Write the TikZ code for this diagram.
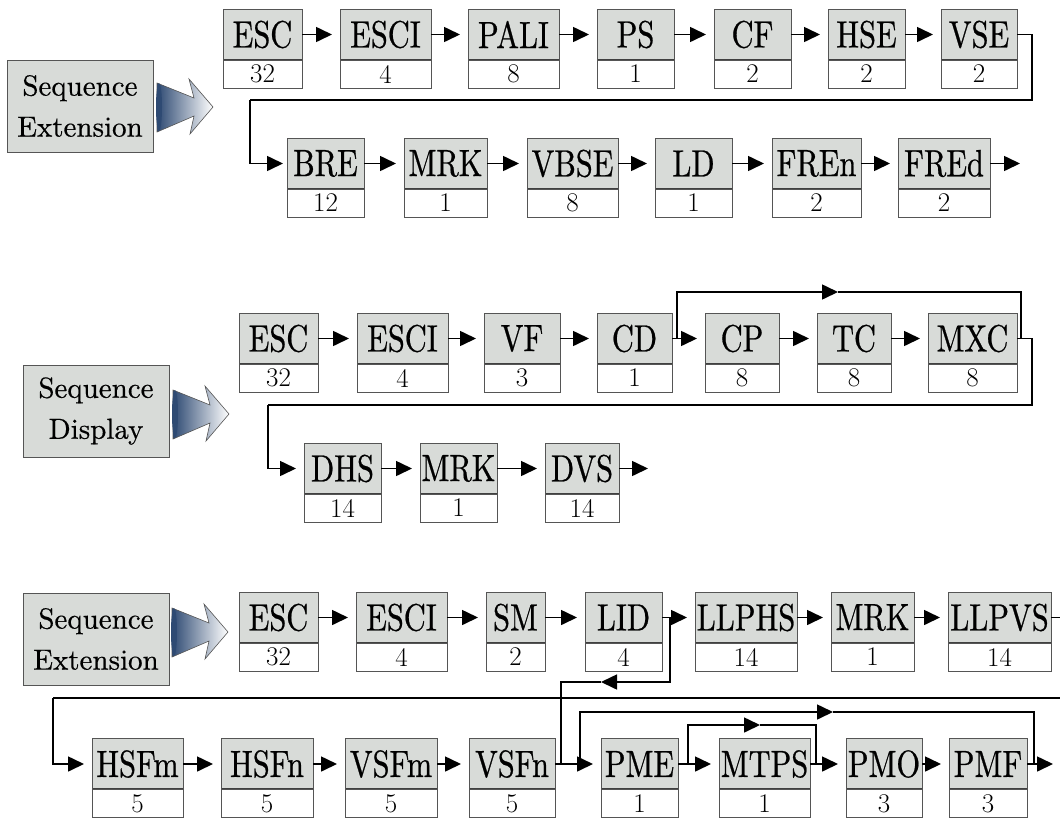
\documentclass[tikz,border=0pt]{standalone}
\usepackage{fontspec}
\newfontfamily\fieldfont[Extension=.otf, FakeStretch=0.8, FakeBold=0.6]{lmroman10-regular}
\newfontfamily\titlefont[Extension=.otf, FakeBold=0.5]{lmroman10-regular}
\usetikzlibrary{positioning,arrows.meta}

\definecolor{boxgray}{HTML}{D8DBD8}
\definecolor{edgegray}{HTML}{555555}
\definecolor{conedark}{HTML}{2E4A73}
\definecolor{conemid}{HTML}{AFBBC9}

\begin{document}
\begin{tikzpicture}[
  x=1pt, y=-1pt,
  field/.style 2 args = {
    rectangle, draw=edgegray, line width=0.9pt, fill=boxgray,
    minimum width=#1pt, minimum height=51pt, inner sep=0pt, outer sep=0pt,
    font=\fieldfont\fontsize{38}{38}\selectfont,
    path picture={\draw[line width=3pt, black!75]
      (path picture bounding box.south west) -- (path picture bounding box.south east);},
    label={[num, minimum width=#1pt]below:#2},
  },
  num/.style = {
    rectangle, draw=edgegray, line width=0.9pt, fill=white,
    minimum height=28pt, inner sep=0pt, outer sep=0pt,
    font=\fontsize{27}{27}\selectfont,
  },
  section/.style = {
    rectangle, draw=edgegray, line width=1pt, fill=boxgray,
    minimum width=146pt, minimum height=92pt, align=center,
    font=\titlefont\fontsize{29}{41}\selectfont,
  },
  link/.style = {-{Triangle[length=16pt,width=15pt]}, line width=1.6pt, shorten >=8pt},
  flow/.style = {-{Triangle[length=16pt,width=15pt]}, line width=1.6pt},
  route/.style = {line width=1.1pt},
  pointer/.pic = {
    \shade[left color=conedark, middle color=conemid, right color=white,
      draw=edgegray, line width=0.6pt]
      (-56,-24) -- (-19,-9) -- (-24,-28) -- (0,0) -- (-23,27) -- (-19,9) -- (-56,25) -- cycle;
    \fill[conedark] (-54,0) ellipse [x radius=3, y radius=24];
  },
]
  \useasboundingbox (0,0) rectangle (1060,817);

  % Sequence Extension
  \node[section] (ext1) at (80,106) {Sequence\\Extension};
  \pic at (213,107) {pointer};

  \node[field={79}{32}] (esc1) at (262.5,34.5) {ESC};
  \node[field={91}{4}] (esci1) at (385.5,34.5) {ESCI};
  \node[field={91}{8}] (pali) at (513.5,34.5) {PALI};
  \node[field={77}{1}] (ps) at (635.5,34.5) {PS};
  \node[field={77}{2}] (cf) at (752.5,34.5) {CF};
  \node[field={77}{2}] (hse) at (866.5,34.5) {HSE};
  \node[field={76}{2}] (vse) at (979,34.5) {VSE};

  \node[field={77}{12}] (bre) at (325.5,163.5) {BRE};
  \node[field={83}{1}] (mrk1) at (445.5,163.5) {MRK};
  \node[field={91}{8}] (vbse) at (572.5,163.5) {VBSE};
  \node[field={77}{1}] (ld) at (693.5,163.5) {LD};
  \node[field={89}{2}] (fren) at (816.5,163.5) {FREn};
  \node[field={92}{2}] (fred) at (944,163.5) {FREd};

  \draw[link] (esc1) -- (esci1);
  \draw[link] (esci1) -- (pali);
  \draw[link] (pali) -- (ps);
  \draw[link] (ps) -- (cf);
  \draw[link] (cf) -- (hse);
  \draw[link] (hse) -- (vse);

  \coordinate (w1a) at (1032,100);
  \coordinate (w1b) at (250,100);
  \draw[route] (vse.east) -| (w1a) -- (w1b);
  \draw[link, shorten >=4pt] (w1b) |- (bre.west);

  \draw[link] (bre) -- (mrk1);
  \draw[link] (mrk1) -- (vbse);
  \draw[link] (vbse) -- (ld);
  \draw[link] (ld) -- (fren);
  \draw[link] (fren) -- (fred);
  \coordinate (end1) at (1020,163.5);
  \draw[flow] (fred.east) -- (end1);

  % Sequence Display
  \node[section] (disp) at (96,411) {Sequence\\Display};
  \pic at (229,414) {pointer};

  \node[field={79}{32}] (esc2) at (278.5,338.5) {ESC};
  \node[field={91}{4}] (esci2) at (402.5,338.5) {ESCI};
  \node[field={76}{3}] (vf) at (522,338.5) {VF};
  \node[field={75}{1}] (cd) at (634.5,338.5) {CD};
  \node[field={74}{8}] (cp) at (742,338.5) {CP};
  \node[field={74}{8}] (tc) at (854,338.5) {TC};
  \node[field={89}{8}] (mxc) at (972.5,338.5) {MXC};

  \node[field={77}{14}] (dhs) at (342.5,468.5) {DHS};
  \node[field={77}{1}] (mrk2) at (458.5,468.5) {MRK};
  \node[field={74}{14}] (dvs) at (582,468.5) {DVS};

  \draw[link] (esc2) -- (esci2);
  \draw[link] (esci2) -- (vf);
  \draw[link] (vf) -- (cd);
  \draw[link] (cd) -- (cp);
  \draw[link] (cp) -- (tc);
  \draw[link] (tc) -- (mxc);

  \coordinate (s2a) at (677,338.5);
  \coordinate (s2b) at (838,292);
  \coordinate (s2c) at (1021,338.5);
  \draw[flow] (s2a) |- (s2b);
  \draw[route] (s2b) -| (s2c);

  \coordinate (w2a) at (1032,405);
  \coordinate (w2b) at (268,405);
  \draw[route] (mxc.east) -| (w2a) -- (w2b);
  \draw[link] (w2b) |- (dhs.west);

  \draw[link] (dhs) -- (mrk2);
  \draw[link] (mrk2) -- (dvs);
  \coordinate (end2) at (648,468.5);
  \draw[flow] (dvs.east) -- (end2);

  % Sequence Extension, second
  \node[section] (ext2) at (96,639) {Sequence\\Extension};
  \pic at (228,632) {pointer};

  \node[field={79}{32}] (esc3) at (278.5,617.5) {ESC};
  \node[field={91}{4}] (esci3) at (401.5,617.5) {ESCI};
  \node[field={59}{2}] (sm) at (515.5,617.5) {SM};
  \node[field={77}{4}] (lid) at (623.5,617.5) {LID};
  \node[field={102}{14}] (llphs) at (746,617.5) {LLPHS};
  \node[field={83}{1}] (mrk3) at (872.5,617.5) {MRK};
  \node[field={103}{14}] (llpvs) at (999.5,617.5) {LLPVS};

  \node[field={91}{5}] (hsfm) at (137.5,764) {HSFm};
  \node[field={92}{5}] (hsfn) at (267,764) {HSFn};
  \node[field={92}{5}] (vsfm) at (391,764) {VSFm};
  \node[field={86}{5}] (vsfn) at (512,764) {VSFn};
  \node[field={77}{1}] (pme) at (639.5,764) {PME};
  \node[field={91}{1}] (mtps) at (764.5,764) {MTPS};
  \node[field={76}{3}] (pmo) at (884,764) {PMO};
  \node[field={78}{3}] (pmf) at (988,764) {PMF};

  \draw[link] (esc3) -- (esci3);
  \draw[link] (esci3) -- (sm);
  \draw[link] (sm) -- (lid);
  \draw[link] (lid) -- (llphs);
  \draw[link] (llphs) -- (mrk3);
  \draw[link] (mrk3) -- (llpvs);

  \coordinate (w3a) at (1060,617.5);
  \coordinate (w3b) at (1060,698);
  \coordinate (w3c) at (53,698);
  \draw[route] (llpvs.east) -- (w3a);
  \draw[route] (w3b) -- (w3c);
  \draw[link] (w3c) |- (hsfm.west);

  \coordinate (k1) at (670,617.5);
  \coordinate (k2) at (601,682);
  \coordinate (k3) at (561,764);
  \draw[flow] (k1) |- (k2);
  \draw[route] (k2) -| (k3);

  \draw[link] (hsfm) -- (hsfn);
  \draw[link] (hsfn) -- (vsfm);
  \draw[link] (vsfm) -- (vsfn);
  \draw[link] (vsfn) -- (pme);
  \draw[link] (pme) -- (mtps);
  \draw[link] (mtps) -- (pmo);
  \draw[link] (pmo) -- (pmf);
  \coordinate (end3) at (1053,764);
  \draw[flow] (pmf.east) -- (end3);

  \coordinate (p1) at (580,764);
  \coordinate (p2) at (833,712);
  \coordinate (p3) at (1034,764);
  \draw[flow] (p1) |- (p2);
  \draw[route] (p2) -| (p3);

  \coordinate (q1) at (688,764);
  \coordinate (q2) at (760,725);
  \coordinate (q3) at (816,764);
  \draw[flow] (q1) |- (q2);
  \draw[route] (q2) -| (q3);
\end{tikzpicture}
\end{document}
